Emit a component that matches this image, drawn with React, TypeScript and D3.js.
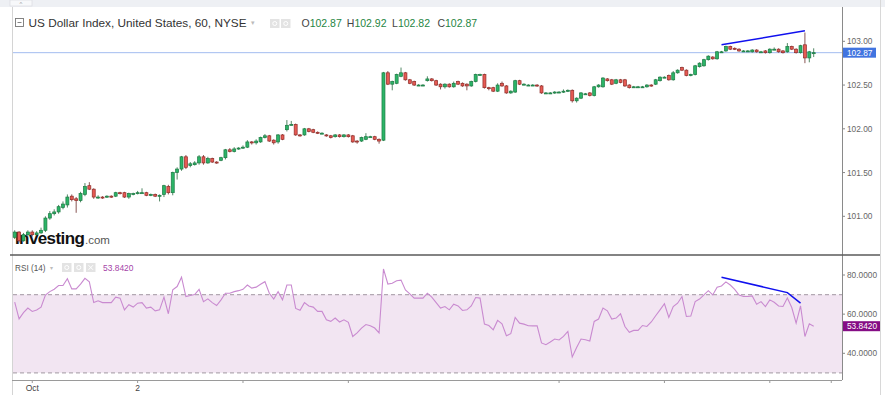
import React from "react";
import * as d3 from "d3";

// hourly candles (index 0 = first bar on the left)
const opens = [
  100.76, 100.82, 100.72, 100.79, 100.82, 100.79, 100.81, 100.84, 100.98, 101.03,
  101.05, 101.10, 101.13, 101.23, 101.20, 101.18, 101.25, 101.35, 101.31, 101.22,
  101.22, 101.22, 101.23, 101.23, 101.27, 101.27, 101.22, 101.26, 101.26, 101.27,
  101.27, 101.24, 101.25, 101.23, 101.25, 101.34, 101.27, 101.50, 101.54, 101.68,
  101.58, 101.59, 101.61, 101.68, 101.61, 101.66, 101.62, 101.64, 101.67, 101.76,
  101.74, 101.77, 101.78, 101.79, 101.85, 101.84, 101.85, 101.90, 101.92, 101.87,
  101.85, 101.93, 101.99, 102.05, 102.05, 101.93, 101.93, 102.00, 101.99, 101.96,
  101.95, 101.93, 101.92, 101.91, 101.93, 101.91, 101.93, 101.92, 101.86, 101.86,
  101.88, 101.91, 101.91, 101.88, 101.87, 102.64, 102.51, 102.52, 102.60, 102.64,
  102.56, 102.54, 102.50, 102.50, 102.55, 102.57, 102.55, 102.51, 102.48, 102.51,
  102.48, 102.54, 102.52, 102.51, 102.49, 102.54, 102.62, 102.62, 102.47, 102.47,
  102.43, 102.52, 102.49, 102.41, 102.42, 102.55, 102.51, 102.50, 102.50, 102.50,
  102.49, 102.41, 102.41, 102.41, 102.42, 102.42, 102.43, 102.44, 102.32, 102.35,
  102.40, 102.41, 102.38, 102.48, 102.48, 102.57, 102.56, 102.52, 102.56, 102.56,
  102.50, 102.48, 102.48, 102.48, 102.48, 102.50, 102.51, 102.55, 102.59, 102.61,
  102.56, 102.64, 102.70, 102.67, 102.61, 102.62, 102.71, 102.72, 102.79, 102.82,
  102.80, 102.88, 102.89, 102.94, 102.92, 102.91, 102.89, 102.89, 102.88, 102.90,
  102.88, 102.89, 102.87, 102.91, 102.91, 102.89, 102.88, 102.94, 102.91, 102.87,
  102.96, 102.81, 102.87,
];
const highs = [
  100.84, 100.83, 100.81, 100.84, 100.84, 100.83, 100.87, 101.00, 101.06, 101.08,
  101.13, 101.17, 101.25, 101.25, 101.22, 101.28, 101.38, 101.39, 101.32, 101.24,
  101.23, 101.24, 101.24, 101.28, 101.28, 101.28, 101.27, 101.27, 101.29, 101.32,
  101.28, 101.26, 101.26, 101.25, 101.36, 101.36, 101.51, 101.56, 101.69, 101.70,
  101.62, 101.63, 101.70, 101.70, 101.68, 101.67, 101.63, 101.68, 101.77, 101.78,
  101.79, 101.79, 101.81, 101.87, 101.86, 101.88, 101.91, 101.94, 101.93, 101.88,
  101.94, 101.94, 102.10, 102.09, 102.06, 101.94, 102.01, 102.01, 102.00, 101.97,
  101.96, 101.94, 101.93, 101.94, 101.94, 101.94, 101.94, 101.93, 101.87, 101.91,
  101.95, 101.92, 101.92, 101.89, 102.65, 102.66, 102.55, 102.63, 102.70, 102.65,
  102.57, 102.55, 102.51, 102.51, 102.60, 102.58, 102.56, 102.52, 102.52, 102.52,
  102.54, 102.55, 102.53, 102.52, 102.55, 102.63, 102.63, 102.63, 102.48, 102.48,
  102.52, 102.54, 102.50, 102.44, 102.56, 102.56, 102.52, 102.51, 102.51, 102.51,
  102.50, 102.42, 102.42, 102.43, 102.43, 102.45, 102.45, 102.45, 102.36, 102.42,
  102.41, 102.42, 102.49, 102.51, 102.59, 102.58, 102.57, 102.57, 102.57, 102.57,
  102.51, 102.49, 102.49, 102.49, 102.51, 102.51, 102.57, 102.60, 102.60, 102.62,
  102.66, 102.68, 102.71, 102.68, 102.63, 102.73, 102.76, 102.80, 102.84, 102.83,
  102.89, 102.89, 102.95, 102.95, 102.93, 102.92, 102.90, 102.90, 102.91, 102.91,
  102.89, 102.90, 102.92, 102.93, 102.92, 102.90, 102.98, 102.95, 102.92, 102.96,
  103.10, 102.89, 102.92,
];
const lows = [
  100.74, 100.70, 100.71, 100.77, 100.77, 100.78, 100.80, 100.82, 100.96, 101.01,
  101.03, 101.08, 101.10, 101.17, 101.04, 101.16, 101.23, 101.30, 101.20, 101.20,
  101.20, 101.21, 101.21, 101.22, 101.25, 101.21, 101.20, 101.24, 101.25, 101.26,
  101.23, 101.23, 101.22, 101.17, 101.22, 101.25, 101.24, 101.42, 101.52, 101.54,
  101.56, 101.58, 101.59, 101.59, 101.60, 101.61, 101.60, 101.63, 101.65, 101.73,
  101.73, 101.76, 101.77, 101.78, 101.82, 101.82, 101.84, 101.89, 101.85, 101.82,
  101.83, 101.87, 101.97, 102.04, 101.92, 101.91, 101.92, 101.96, 101.95, 101.94,
  101.94, 101.91, 101.89, 101.90, 101.90, 101.90, 101.90, 101.84, 101.83, 101.85,
  101.87, 101.90, 101.87, 101.83, 101.86, 102.50, 102.44, 102.51, 102.59, 102.55,
  102.51, 102.49, 102.49, 102.49, 102.54, 102.54, 102.49, 102.45, 102.46, 102.47,
  102.47, 102.50, 102.48, 102.44, 102.48, 102.53, 102.61, 102.46, 102.44, 102.42,
  102.42, 102.48, 102.40, 102.40, 102.41, 102.50, 102.50, 102.49, 102.49, 102.48,
  102.40, 102.40, 102.40, 102.40, 102.41, 102.41, 102.42, 102.30, 102.30, 102.34,
  102.39, 102.37, 102.37, 102.47, 102.47, 102.54, 102.50, 102.51, 102.52, 102.48,
  102.46, 102.47, 102.47, 102.47, 102.47, 102.48, 102.50, 102.54, 102.58, 102.55,
  102.55, 102.63, 102.66, 102.60, 102.60, 102.61, 102.70, 102.71, 102.78, 102.79,
  102.79, 102.87, 102.88, 102.90, 102.90, 102.88, 102.88, 102.88, 102.87, 102.87,
  102.87, 102.86, 102.86, 102.90, 102.87, 102.86, 102.87, 102.90, 102.86, 102.86,
  102.75, 102.76, 102.82,
];
const closes = [
  100.82, 100.72, 100.79, 100.82, 100.79, 100.81, 100.84, 100.98, 101.03, 101.05,
  101.11, 101.14, 101.22, 101.19, 101.18, 101.26, 101.34, 101.31, 101.22, 101.22,
  101.21, 101.23, 101.22, 101.27, 101.26, 101.22, 101.26, 101.26, 101.27, 101.27,
  101.24, 101.25, 101.23, 101.24, 101.35, 101.27, 101.50, 101.54, 101.68, 101.56,
  101.60, 101.61, 101.68, 101.61, 101.66, 101.62, 101.61, 101.67, 101.76, 101.74,
  101.77, 101.78, 101.79, 101.85, 101.84, 101.86, 101.90, 101.92, 101.86, 101.84,
  101.93, 101.88, 102.04, 102.05, 101.93, 101.92, 102.00, 101.97, 101.96, 101.95,
  101.95, 101.92, 101.90, 101.93, 101.91, 101.93, 101.91, 101.85, 101.85, 101.90,
  101.91, 101.91, 101.88, 101.86, 102.64, 102.51, 102.54, 102.62, 102.64, 102.56,
  102.52, 102.50, 102.50, 102.50, 102.57, 102.55, 102.50, 102.48, 102.51, 102.48,
  102.52, 102.51, 102.49, 102.49, 102.54, 102.62, 102.62, 102.47, 102.46, 102.43,
  102.50, 102.49, 102.41, 102.43, 102.55, 102.51, 102.51, 102.50, 102.50, 102.49,
  102.41, 102.41, 102.41, 102.42, 102.42, 102.43, 102.44, 102.32, 102.35, 102.41,
  102.40, 102.38, 102.48, 102.50, 102.58, 102.55, 102.51, 102.56, 102.53, 102.49,
  102.47, 102.48, 102.48, 102.48, 102.50, 102.49, 102.56, 102.59, 102.59, 102.56,
  102.64, 102.67, 102.67, 102.61, 102.62, 102.72, 102.75, 102.79, 102.83, 102.80,
  102.88, 102.88, 102.94, 102.91, 102.91, 102.89, 102.89, 102.89, 102.90, 102.88,
  102.88, 102.87, 102.91, 102.91, 102.88, 102.87, 102.94, 102.91, 102.87, 102.95,
  102.81, 102.88, 102.87,
];

// RSI(14), one value per candle
const rsiValues = [
  66.1, 57.6, 60.8, 63.1, 61.4, 62.1, 63.6, 69.8, 71.5, 72.7,
  74.6, 74.6, 78.1, 72.9, 72.9, 75.3, 78.3, 76.5, 65.9, 66.8,
  65.9, 65.9, 65.9, 68.7, 68.2, 62.2, 64.8, 63.6, 65.6, 65.9,
  63.1, 63.6, 61.7, 62.2, 68.7, 60.2, 72.4, 74.1, 78.9, 69.0,
  69.5, 70.0, 72.7, 66.4, 67.8, 65.9, 64.4, 67.3, 70.7, 70.7,
  71.5, 72.0, 72.7, 74.9, 73.3, 73.8, 75.3, 76.6, 70.7, 67.7,
  71.5, 67.3, 74.9, 74.9, 62.9, 62.0, 65.9, 64.2, 63.6, 61.4,
  61.4, 57.1, 56.3, 58.0, 56.0, 57.1, 55.8, 48.6, 50.4, 52.9,
  54.7, 54.1, 52.9, 50.4, 83.1, 75.4, 75.8, 77.1, 77.4, 72.4,
  70.4, 68.2, 68.2, 68.2, 70.7, 68.7, 65.9, 63.1, 63.9, 62.2,
  65.1, 64.2, 61.9, 62.2, 64.2, 68.5, 68.2, 54.9, 54.2, 52.0,
  56.8, 55.1, 49.0, 50.0, 58.3, 55.4, 54.9, 54.1, 54.0, 54.0,
  45.3, 44.4, 45.8, 47.3, 46.8, 48.6, 51.2, 38.1, 43.0, 47.3,
  46.9, 46.3, 56.3, 57.5, 63.1, 61.7, 57.5, 58.0, 60.2, 53.7,
  50.7, 51.7, 51.7, 54.2, 53.7, 56.0, 59.2, 62.2, 65.3, 58.3,
  63.9, 65.6, 69.0, 58.8, 59.0, 66.4, 67.7, 69.8, 72.0, 69.8,
  73.8, 74.4, 76.5, 74.9, 72.7, 69.8, 69.0, 69.0, 69.3, 65.1,
  66.4, 63.9, 67.3, 66.1, 64.2, 63.9, 68.2, 63.4, 55.4, 64.2,
  48.6, 55.1, 53.842,
];

const priceTicks = [101, 101.5, 102, 102.5, 103];
const rsiTicks = [40, 60, 80];
const rsiBands = [30, 70];
const dayTickIndex = [4, 28, 52, 76, 124, 148, 172, 186];
const dayTickLabels = ["Oct", "2", "", "", "", "", "", ""];
const ohlcNames = ["O", "H", "L", "C"];
const ohlcValues = [102.87, 102.92, 102.82, 102.87];
const lastPrice = 102.87;
const lastRsi = 53.842;
const priceTrend = [
  { i: 161, v: 102.96 },
  { i: 180, v: 103.12 },
];
const rsiTrend = [
  { i: 161, v: 78.9 },
  { i: 176, v: 71.0 },
  { i: 179, v: 65.6 },
];

const W = 885;
const H = 395;
const left = 12;
const right = 842;
const mainTop = 7;
const split = 255;
const bottom = 380;
const font = "'Liberation Sans', Arial, sans-serif";

export default function App() {
  const n = closes.length;
  const x = d3.scaleLinear().domain([0, n - 1]).range([14.7, 813.7]);
  const y = d3.scaleLinear().domain([101, 103]).range([216.3, 41.3]);
  const yr = d3.scaleLinear().domain([40, 80]).range([353.3, 275]);

  const rsiPath = d3
    .line<number>()
    .x((_, i) => x(i))
    .y((d) => yr(d))(rsiValues);

  const trendLine = d3
    .line<{ i: number; v: number }>()
    .x((d) => x(d.i));

  const bodyW = 3;

  return (
    <div style={{ position: "fixed", left: 0, top: 0 }}>
      <svg width={W} height={H} style={{ display: "block", background: "#fff" }} fontFamily={font}>
        <defs>
          <clipPath id="main-clip">
            <rect x={left} y={mainTop} width={right - left} height={split - mainTop} />
          </clipPath>
          <clipPath id="rsi-clip">
            <rect x={left} y={split} width={right - left} height={bottom - split} />
          </clipPath>
        </defs>

        {/* top strip with the little tab */}
        <rect x={0} y={0} width={W} height={mainTop} fill="#eef0f4" />
        <rect x={10} y={0} width={22} height={6} fill="#f7f8fa" stroke="#d6d8dd" strokeWidth={0.6} />
        <text x={21} y={5.5} fontSize={6} fill="#999" textAnchor="middle">^</text>

        {/* frame lines */}
        <line x1={left + 0.5} x2={left + 0.5} y1={mainTop} y2={H} stroke="#d4d4d4" />
        <line x1={880.5} x2={880.5} y1={0} y2={H} stroke="#d8d8d8" />
        <line x1={right + 0.5} x2={right + 0.5} y1={mainTop} y2={bottom} stroke="#8a8a8a" />
        <line x1={left} x2={right} y1={bottom + 0.5} y2={bottom + 0.5} stroke="#9a9a9a" />

        {/* RSI band */}
        <rect
          x={left + 1}
          y={yr(rsiBands[1])}
          width={right - left - 1}
          height={yr(rsiBands[0]) - yr(rsiBands[1])}
          fill="#f2e5f2"
        />
        {rsiBands.map((b) => (
          <line
            key={b}
            x1={left + 1}
            x2={right}
            y1={yr(b)}
            y2={yr(b)}
            stroke="#b3a9b3"
            strokeWidth={1.2}
            strokeDasharray="4 3"
          />
        ))}

        {/* last price line */}
        <line
          x1={left + 1}
          x2={right}
          y1={y(lastPrice)}
          y2={y(lastPrice)}
          stroke="#a3bcf0"
          strokeWidth={1}
        />

        {/* watermark */}
        <text x={15} y={244} fontSize={17} fontWeight="bold" fill="#111" letterSpacing={-0.6}>
          Investing
        </text>
        <text x={85} y={244} fontSize={11.5} fill="#555">
          .com
        </text>

        {/* candles */}
        <g clipPath="url(#main-clip)">
          {d3.range(n).map((i) => {
            const up = closes[i] >= opens[i];
            const yo = y(opens[i]);
            const yc = y(closes[i]);
            const top = Math.min(yo, yc);
            const h = Math.max(Math.abs(yo - yc), 1);
            const cx = x(i);
            return (
              <g key={i}>
                <line x1={cx} x2={cx} y1={y(highs[i])} y2={y(lows[i])} stroke={up ? "#3f7a55" : "#7a4341"} strokeWidth={0.9} />
                <rect
                  x={cx - bodyW / 2}
                  y={top}
                  width={bodyW}
                  height={h}
                  fill={up ? "#2bb467" : "#e65a53"}
                  stroke={up ? "#1d7a43" : "#8f2d29"}
                  strokeWidth={0.7}
                />
              </g>
            );
          })}
          <path d={trendLine.y((d) => y(d.v))(priceTrend) || undefined} fill="none" stroke="#1010ee" strokeWidth={1.5} />
        </g>

        {/* RSI line */}
        <g clipPath="url(#rsi-clip)">
          <path d={rsiPath || undefined} fill="none" stroke="#c98ad0" strokeWidth={1.1} />
          <path d={trendLine.y((d) => yr(d.v))(rsiTrend) || undefined} fill="none" stroke="#1010ee" strokeWidth={1.5} />
        </g>

        {/* pane separator */}
        <line x1={10} x2={880} y1={split} y2={split} stroke="#5a5a5a" strokeWidth={1.5} />

        {/* price axis */}
        {priceTicks.map((t) => (
          <g key={t}>
            <line x1={right} x2={right + 3} y1={y(t)} y2={y(t)} stroke="#888" />
            <text x={847} y={y(t) + 3} fontSize={8.3} fill="#666">
              {t.toFixed(2)}
            </text>
          </g>
        ))}
        <rect x={right + 1} y={y(lastPrice) - 5} width={33} height={10} fill="#4174e0" />
        <text x={847} y={y(lastPrice) + 3} fontSize={8.3} fill="#fff">
          {lastPrice.toFixed(2)}
        </text>

        {/* RSI axis */}
        {rsiTicks.map((t) => (
          <g key={t}>
            <line x1={right} x2={right + 3} y1={yr(t)} y2={yr(t)} stroke="#888" />
            <text x={847} y={yr(t) + 3} fontSize={8.3} fill="#666">
              {t.toFixed(4)}
            </text>
          </g>
        ))}
        <rect x={right + 1} y={yr(lastRsi) - 5} width={37} height={10} fill="#850d85" />
        <text x={847} y={yr(lastRsi) + 3} fontSize={8.3} fill="#fff">
          {lastRsi.toFixed(4)}
        </text>

        {/* time axis */}
        {dayTickIndex.map((d, k) => (
          <g key={d}>
            <line x1={x(d)} x2={x(d)} y1={bottom} y2={bottom + 3} stroke="#999" />
            {dayTickLabels[k] && (
              <text x={x(d)} y={391} fontSize={8.5} fill="#444" textAnchor="middle">
                {dayTickLabels[k]}
              </text>
            )}
          </g>
        ))}

        {/* main header */}
        <rect x={15.5} y={18.5} width={8} height={8} fill="none" stroke="#777" strokeWidth={0.9} />
        <line x1={17.5} x2={21.5} y1={22.5} y2={22.5} stroke="#777" strokeWidth={0.9} />
        <text x={28.5} y={27.3} fontSize={11.8} fill="#333" textLength={218} lengthAdjust="spacingAndGlyphs">
          US Dollar Index, United States, 60, NYSE
        </text>
        <text x={251} y={25} fontSize={7} fill="#bbb">▾</text>
        {[270, 281].map((bx) => (
          <g key={bx}>
            <rect x={bx} y={19} width={9.5} height={9} fill="#e3e3e3" />
            <circle cx={bx + 4.75} cy={23.5} r={2} fill="none" stroke="#fff" strokeWidth={1} />
          </g>
        ))}
        {ohlcNames.map((nm, k) => (
          <text key={nm} x={301.5 + k * 45.3} y={27} fontSize={10.5}>
            <tspan fill="#444">{nm}</tspan>
            <tspan fill="#1f8643">{ohlcValues[k].toFixed(2)}</tspan>
          </text>
        ))}

        {/* RSI header */}
        <text x={15} y={270.5} fontSize={9.6} fill="#555" textLength={30.5} lengthAdjust="spacingAndGlyphs">
          RSI (14)
        </text>
        <text x={50} y={269.5} fontSize={6} fill="#bbb">▾</text>
        {[62, 74, 86].map((bx, k) => (
          <g key={bx}>
            <rect x={bx} y={263} width={9.5} height={9} fill="#e3e3e3" />
            {k < 2 ? (
              <circle cx={bx + 4.75} cy={267.5} r={2} fill="none" stroke="#fff" strokeWidth={1} />
            ) : (
              <path d={`M${bx + 2.5},265.2L${bx + 7},269.8M${bx + 7},265.2L${bx + 2.5},269.8`} stroke="#fff" strokeWidth={1} />
            )}
          </g>
        ))}
        <text x={103} y={270.5} fontSize={9.6} fill="#a544a8" textLength={30.5} lengthAdjust="spacingAndGlyphs">
          {lastRsi.toFixed(4)}
        </text>
      </svg>
    </div>
  );
}
